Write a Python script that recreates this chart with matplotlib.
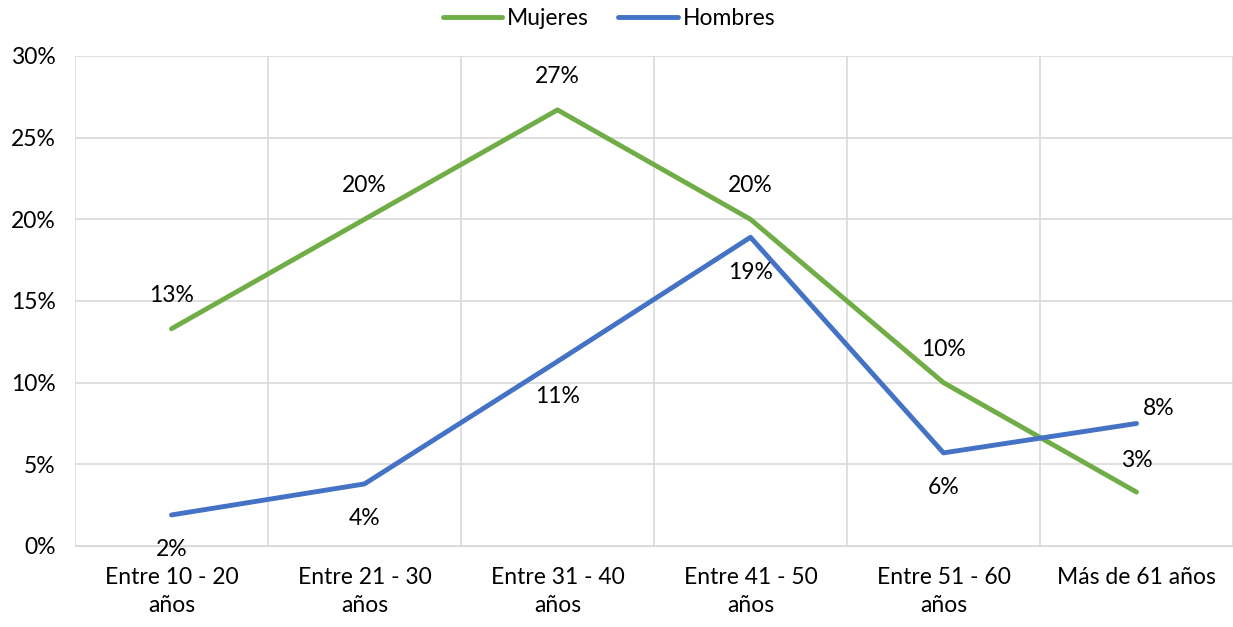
import numpy as np
import matplotlib.pyplot as plt
from matplotlib.ticker import PercentFormatter

categorias = ["Entre 10 - 20\naños", "Entre 21 - 30\naños", "Entre 31 - 40\naños",
              "Entre 41 - 50\naños", "Entre 51 - 60\naños", "Más de 61 años"]
mujeres = [13.3, 20.0, 26.7, 20.0, 10.0, 3.3]
hombres = [1.9, 3.8, 11.3, 18.9, 5.7, 7.5]

# donde va cada etiqueta: desplazamiento en puntos
off_muj = [(0, 24), (0, 24), (0, 24), (0, 24), (0, 24), (0, 23)]
off_hom = [(0, -25), (0, -25), (0, -25), (0, -25), (0, -25), (16, 11)]

plt.rcParams['font.family'] = ['Lato', 'DejaVu Sans']
fs = 16.5

fig = plt.figure(figsize=(12.33, 6.27), dpi=100)
ax = fig.add_axes([0.0608, 0.1292, 0.9392, 0.7815])

x = np.arange(len(categorias))
ax.plot(x, mujeres, color="#70AD47", lw=3.5, label="Mujeres", solid_capstyle="round")
ax.plot(x, hombres, color="#4472C4", lw=3.5, label="Hombres", solid_capstyle="round")

for xi, v, o in zip(x, mujeres, off_muj):
    ax.annotate(f"{v:.0f}%", (xi, v), xytext=o, textcoords="offset points",
                ha="center", va="center", fontsize=fs, color="#000000")
for xi, v, o in zip(x, hombres, off_hom):
    ax.annotate(f"{v:.0f}%", (xi, v), xytext=o, textcoords="offset points",
                ha="center", va="center", fontsize=fs, color="#000000")

ax.set_xlim(-0.5, len(categorias) - 0.5)
ax.set_ylim(0, 30)
ax.set_yticks(np.arange(0, 31, 5))
ax.yaxis.set_major_formatter(PercentFormatter(decimals=0))
ax.set_xticks(x)
ax.set_xticklabels(categorias, fontsize=fs, linespacing=1.45)
ax.set_xticks(np.arange(-0.5, len(categorias)), minor=True)
ax.tick_params(axis="y", labelsize=fs, length=0, pad=14)
ax.tick_params(axis="x", which="both", length=0, pad=15)
ax.grid(axis="y", which="major", color="#D9D9D9", lw=1.2)
ax.grid(axis="x", which="minor", color="#D9D9D9", lw=1.2)
ax.grid(axis="x", which="major", visible=False)
for s in ["top", "right", "left"]:
    ax.spines[s].set_visible(False)
ax.spines["bottom"].set_color("#D9D9D9")
ax.set_axisbelow(True)

ax.legend(loc="lower center", bbox_to_anchor=(0.461, 1.012), ncol=2, frameon=False,
          fontsize=fs, handlelength=2.6, columnspacing=1.3, handletextpad=0.2)

fig.savefig("out.png")
